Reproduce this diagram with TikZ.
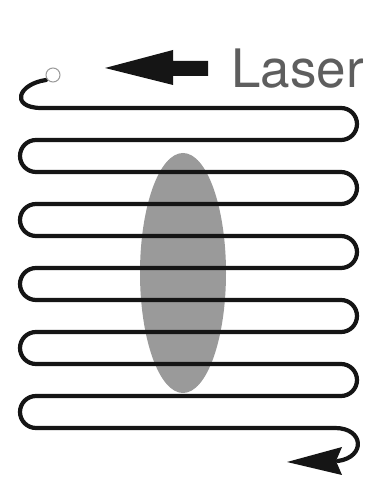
\documentclass[tikz,border=0pt]{standalone}
\usepackage{fontspec}
\setmainfont{TeX Gyre Heros}
\usetikzlibrary{arrows.meta}
\definecolor{blobgray}{HTML}{9A9A9A}
\definecolor{lasergray}{HTML}{5E5E5E}
\definecolor{ink}{HTML}{151515}
\tikzset{
  fiber/.style={draw=ink, line width=4.2pt, line join=round, line cap=round},
  blob/.style={fill=blobgray, draw=none},
  headfill/.style={fill=ink, draw=none},
}
\begin{document}
\begin{tikzpicture}[x=1pt,y=1pt]
\useasboundingbox (0,0) rectangle (368,477);
\fill[white] (0,0) rectangle (368,477);
% grey ellipse behind the fiber
\fill[blob] (183,204) ellipse [x radius=43, y radius=120];
% serpentine fiber
\draw[fiber] (46,397) .. controls (18,393) and (10,370) .. (40,369)
  -- (341,369) arc[start angle=90, end angle=-90, radius=16]
  -- (36,337) arc[start angle=90, end angle=270, radius=16]
  -- (341,305) arc[start angle=90, end angle=-90, radius=16]
  -- (36,273) arc[start angle=90, end angle=270, radius=16]
  -- (341,241) arc[start angle=90, end angle=-90, radius=16]
  -- (36,209) arc[start angle=90, end angle=270, radius=16]
  -- (341,177) arc[start angle=90, end angle=-90, radius=16]
  -- (36,145) arc[start angle=90, end angle=270, radius=16]
  -- (341,113) arc[start angle=90, end angle=-90, radius=16]
  -- (36,81) arc[start angle=90, end angle=270, radius=16]
  -- (335,49) .. controls (364,49) and (366,20) .. (338,16);
% final arrowhead
\fill[headfill] (342,30) -- (287,15) -- (342,2) -- (336,16) -- cycle;
% start circle
\node[circle, draw=blobgray, fill=white, line width=1pt, minimum size=14pt, inner sep=0pt] (start) at (53,402) {};
% Laser arrow
\fill[headfill] (105,409) -- (173,427) -- (173,416) -- (208,416) -- (208,401) -- (173,401) -- (173,392) -- cycle;
\node[anchor=base west, inner sep=0pt, text=lasergray, font=\fontsize{53}{60}\selectfont] (laser) at (231,389) {Laser};
\end{tikzpicture}
\end{document}
